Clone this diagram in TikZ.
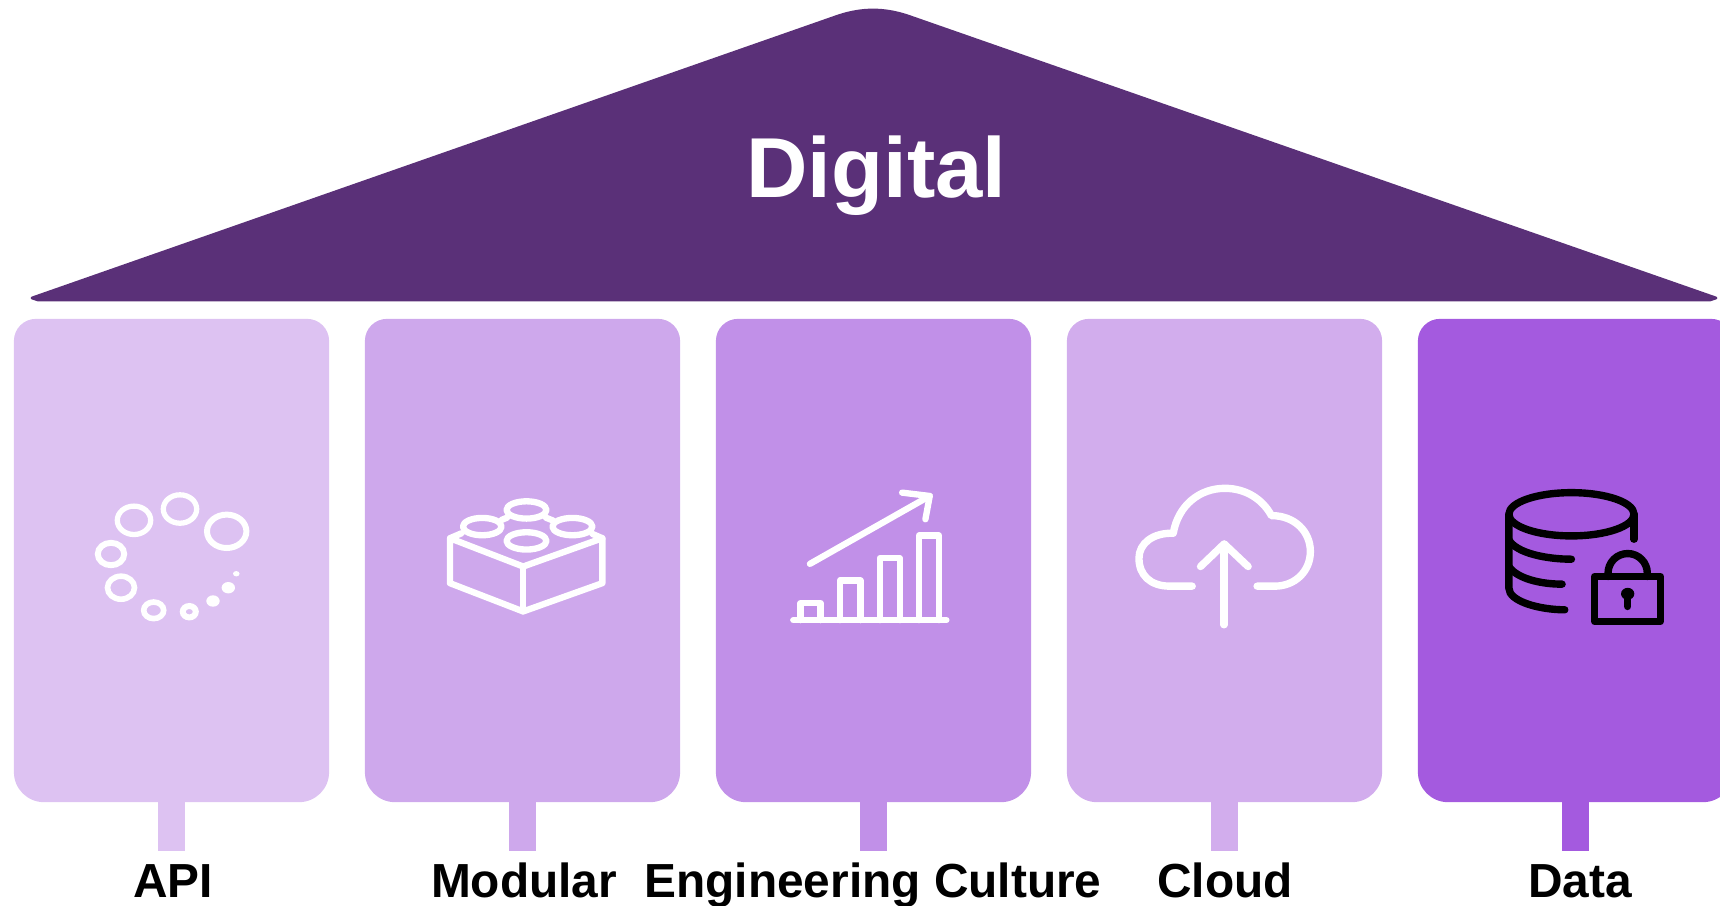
\documentclass[tikz,border=0pt]{standalone}
\usepackage{fontspec}
\setmainfont{Liberation Sans}
\definecolor{roofpurple}{HTML}{5A3078}
\definecolor{apicol}{HTML}{DDC2F2}
\definecolor{modularcol}{HTML}{CEA8EC}
\definecolor{culturecol}{HTML}{C190E8}
\definecolor{cloudcol}{HTML}{D2ADED}
\definecolor{datacol}{HTML}{A45ADF}
\tikzset{
  pillar/.style={rectangle, minimum width=3.15cm, minimum height=4.83cm, outer sep=0pt, inner sep=0pt},
  stem/.style={line width=7.9pt, shorten <=-2pt},
  caption/.style={anchor=base, inner sep=0pt, font=\fontsize{13.6}{16}\selectfont\bfseries},
  iconline/.style={draw=white, line width=1.8pt, line cap=round, line join=round},
  darkline/.style={draw=black, line width=2.1pt, line cap=round, line join=round},
  zoomed/.style={shift={(#1)}, x=0.003333cm, y=-0.003333cm}
}
\newcommand{\pillarbody}[2]{\fill[#2, rounded corners=0.22cm] (#1.west) |- (#1.north) -| (#1.east) [rounded corners=0.3cm] |- (#1.south) -| (#1.west) -- cycle;}
\begin{document}
\begin{tikzpicture}[x=0.01cm,y=-0.01cm]
\path[use as bounding box,clip] (0,0) rectangle (1720,905);
% roof
\filldraw[fill=roofpurple, draw=roofpurple, line width=0.8pt, line join=round] (32,298) -- (838,16) .. controls (862,8) and (884,8) .. (908,16) -- (1716,298) -- (1710,300) -- (38,300) -- cycle;
\node[text=white, anchor=base, inner sep=0pt, font=\fontsize{24.2}{28}\selectfont\bfseries] (roof) at (876.5,197) {Digital};
% pillars
\node[pillar] (api) at (171.5,560.5) {};
\node[pillar] (modular) at (522.5,560.5) {};
\node[pillar] (culture) at (873.5,560.5) {};
\node[pillar] (cloud) at (1224.5,560.5) {};
\node[pillar] (data) at (1575.5,560.5) {};
\pillarbody{api}{apicol}
\pillarbody{modular}{modularcol}
\pillarbody{culture}{culturecol}
\pillarbody{cloud}{cloudcol}
\pillarbody{data}{datacol}
% stems
\coordinate (apitip) at (171.5,851);
\coordinate (modulartip) at (522.5,851);
\coordinate (culturetip) at (873.5,851);
\coordinate (cloudtip) at (1224.5,851);
\coordinate (datatip) at (1575.5,851);
\draw[stem, apicol] (api.south) -- (apitip);
\draw[stem, modularcol] (modular.south) -- (modulartip);
\draw[stem, culturecol] (culture.south) -- (culturetip);
\draw[stem, cloudcol] (cloud.south) -- (cloudtip);
\draw[stem, datacol] (data.south) -- (datatip);
% captions
\node[caption] (apilabel) at (173,897) {API};
\node[caption] (modularlabel) at (524,897) {Modular};
\node[caption] (culturelabel) at (873,897) {Engineering Culture};
\node[caption] (cloudlabel) at (1225,897) {Cloud};
\node[caption] (datalabel) at (1580,897) {Data};
% api icon
\draw[white, line width=1.7pt] (226.7,531.3) ellipse [x radius=19.7, y radius=16.7];
\draw[white, line width=1.5pt] (180,509) ellipse [x radius=16.7, y radius=14.2];
\draw[white, line width=1.5pt] (134,520.3) ellipse [x radius=16.7, y radius=14.2];
\draw[white, line width=1.7pt] (111,554) ellipse [x radius=13.2, y radius=11.2];
\draw[white, line width=1.6pt] (121,587.7) ellipse [x radius=13.5, y radius=11.5];
\draw[white, line width=1.6pt] (153.7,610.3) ellipse [x radius=10, y radius=8.3];
\draw[white, line width=1.7pt] (189.3,611.7) ellipse [x radius=6.5, y radius=5.7];
\fill[white] (213,601) ellipse [x radius=6.7, y radius=5.7];
\fill[white] (228.3,587.7) ellipse [x radius=6.7, y radius=5.7];
\fill[white] (236.3,573.7) ellipse [x radius=3.3, y radius=2.7];
% modular icon
\begin{scope}[zoomed={420,470}]
\draw[iconline] (90,205) -- (310,290) -- (548,205) -- (548,340) -- (310,425) -- (90,340) -- cycle;
\draw[iconline] (310,290) -- (310,425);
\draw[iconline] (90,205) -- (125,190);
\draw[iconline] (548,205) -- (518,192);
\draw[iconline] (245,150) -- (262,143);
\draw[iconline] (378,143) -- (400,152);
\draw[iconline] (320,120) ellipse [x radius=60, y radius=26];
\draw[iconline] (187,170) ellipse [x radius=58, y radius=26];
\draw[iconline] (458,170) ellipse [x radius=60, y radius=26];
\draw[iconline] (320,213) ellipse [x radius=60, y radius=26];
\end{scope}
% culture icon
\begin{scope}[zoomed={770,470}]
\draw[iconline] (70,451) -- (530,451);
\draw[iconline] (92,451) -- (92,400) -- (152,400) -- (152,451);
\draw[iconline] (210,451) -- (210,332) -- (272,332) -- (272,451);
\draw[iconline] (330,451) -- (330,265) -- (390,265) -- (390,451);
\draw[iconline] (448,451) -- (448,197) -- (508,197) -- (508,451);
\draw[iconline] (120,282) -- (480,78);
\draw[iconline] (397,68) -- (480,78) -- (467,148);
\end{scope}
% cloud icon
\begin{scope}[zoomed={1120,470}]
\draw[iconline, line width=2.1pt] (217,349) -- (150,349) .. controls (90,349) and (57,315) .. (57,265) .. controls (57,220) and (100,188) .. (160,190) .. controls (175,105) and (240,55) .. (315,55) .. controls (380,55) and (430,90) .. (455,137) .. controls (525,137) and (572,185) .. (572,245) .. controls (572,305) and (525,349) .. (465,349) -- (412,349);
\draw[iconline, line width=2.1pt] (313,465) -- (313,225);
\draw[iconline, line width=2.1pt] (242,290) -- (313,222) -- (385,290);
\end{scope}
% data icon
\begin{scope}[zoomed={1430,470}]
\draw[darkline] (425,133) ellipse [x radius=188, y radius=65];
\draw[darkline] (237,133) -- (237,355) .. controls (237,395) and (330,420) .. (405,420);
\draw[darkline] (613,133) -- (613,208);
\draw[darkline] (237,210) .. controls (260,250) and (350,268) .. (425,268);
\draw[darkline] (237,290) .. controls (260,325) and (330,343) .. (397,343);
\draw[darkline] (495,320) rectangle (692,455);
\draw[darkline] (535,320) -- (535,310) arc[start angle=180, end angle=0, x radius=59, y radius=-59] -- (653,320);
\fill[black] (594,372) ellipse [x radius=20, y radius=18];
\draw[darkline] (594,372) -- (594,410);
\end{scope}
\end{tikzpicture}
\end{document}
